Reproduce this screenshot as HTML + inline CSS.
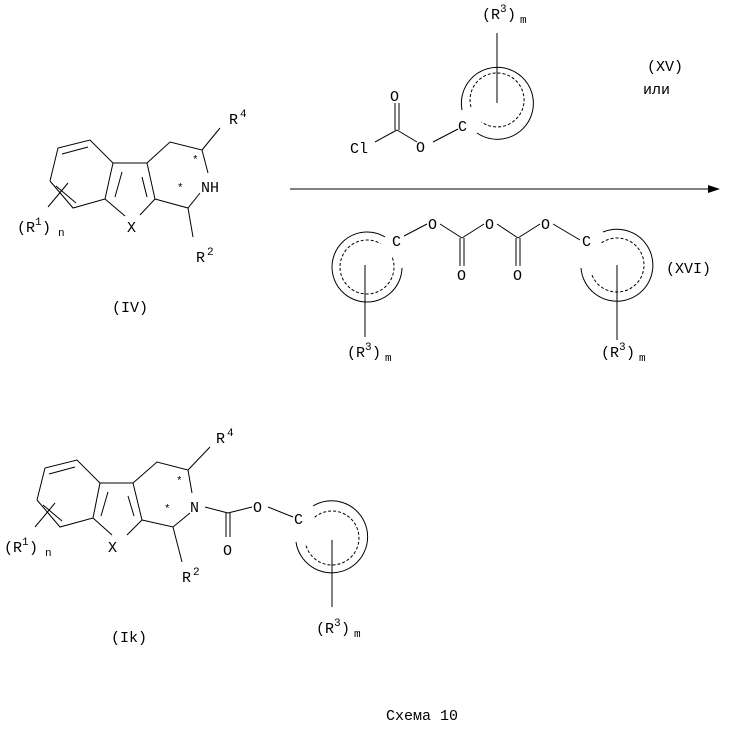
<!DOCTYPE html><html><head><style>body{margin:0;background:#fff}svg{display:block}text{font-family:"Liberation Mono","DejaVu Sans Mono",monospace;font-size:15px;fill:#000}.s{font-size:11px}</style></head><body>
<svg width="750" height="730" viewBox="0 0 750 730" xmlns="http://www.w3.org/2000/svg">
<g stroke="#000" stroke-width="1" fill="none">
<!-- IV -->
<polyline points="50,181 58,148 90,140 113,163 105,199 73,208 50,181"/>
<line x1="62" y1="154" x2="88" y2="147"/>
<line x1="56" y1="186" x2="76" y2="203"/>
<line x1="48" y1="207" x2="68" y2="183"/>
<line x1="113" y1="163" x2="147" y2="163"/>
<line x1="105" y1="199" x2="125" y2="216"/>
<line x1="140" y1="215" x2="155" y2="199"/>
<line x1="155" y1="199" x2="147" y2="163"/>
<line x1="122" y1="172" x2="115" y2="197"/>
<line x1="142" y1="177" x2="147" y2="197"/>
<polyline points="147,163 170,142 202,150 208,173"/>
<polyline points="200,193 188,208 155,199"/>
<line x1="188" y1="208" x2="193" y2="237"/>
<line x1="202" y1="150" x2="220" y2="128"/>
<!-- XV -->
<line x1="497" y1="33" x2="497" y2="103"/>
<path d="M 462 110 A 36 36 0 1 1 477 133"/>
<path d="M 471 107 A 27 27 0 1 1 481.5 122" stroke-dasharray="3,2"/>
<line x1="433" y1="142" x2="458" y2="129"/>
<line x1="417" y1="142" x2="397" y2="130"/>
<line x1="375" y1="142" x2="397" y2="130"/>
<line x1="395" y1="130" x2="395" y2="103"/>
<line x1="399" y1="130" x2="399" y2="103"/>
<!-- arrow -->
<line x1="290" y1="189" x2="712" y2="189"/>
<!-- XVI -->
<path d="M 402 268 A 35 35 0 1 1 385 237"/>
<path d="M 392.4 257.8 A 27 27 0 1 1 380.5 243.6" stroke-dasharray="3,2"/>
<line x1="365" y1="265" x2="365" y2="337"/>
<line x1="404" y1="236" x2="427" y2="224"/>
<line x1="440" y1="224" x2="462" y2="238"/>
<line x1="462" y1="238" x2="484" y2="224"/>
<line x1="460" y1="238" x2="460" y2="266"/>
<line x1="464" y1="238" x2="464" y2="266"/>
<line x1="497" y1="224" x2="518" y2="238"/>
<line x1="518" y1="238" x2="540" y2="224"/>
<line x1="516" y1="238" x2="516" y2="266"/>
<line x1="520" y1="238" x2="520" y2="266"/>
<line x1="553" y1="224" x2="580" y2="240"/>
<path d="M 603 232 A 36 36 0 1 1 581 268"/>
<path d="M 601.5 242.9 A 27 27 0 1 1 591.6 274.2" stroke-dasharray="3,2"/>
<line x1="617" y1="265" x2="617" y2="340"/>
<!-- Ik -->
<polyline points="37,500 45,468 77,460 100,483 93,518 60,527 37,500"/>
<line x1="49" y1="474" x2="75" y2="467"/>
<line x1="43" y1="505" x2="62" y2="521"/>
<line x1="35" y1="527" x2="55" y2="503"/>
<line x1="100" y1="483" x2="133" y2="483"/>
<line x1="93" y1="518" x2="112" y2="535"/>
<line x1="127" y1="535" x2="142" y2="520"/>
<line x1="142" y1="520" x2="133" y2="483"/>
<line x1="108" y1="492" x2="101" y2="516"/>
<line x1="128" y1="496" x2="134" y2="516"/>
<polyline points="133,483 157,462 188,470 192,493"/>
<polyline points="190,513 173,527 142,520"/>
<line x1="173" y1="527" x2="182" y2="562"/>
<line x1="188" y1="470" x2="210" y2="447"/>
<line x1="205" y1="507" x2="228" y2="513"/>
<line x1="226" y1="513" x2="226" y2="537"/>
<line x1="230" y1="513" x2="230" y2="537"/>
<line x1="228" y1="513" x2="252" y2="507"/>
<line x1="268" y1="507" x2="293" y2="517"/>
<path d="M 313 506 A 36 36 0 1 1 296 542"/>
<path d="M 314.6 517.3 A 27 27 0 1 1 305.9 545" stroke-dasharray="3,2"/>
<line x1="332" y1="540" x2="332" y2="607"/>
</g>
<polygon points="720,189 708,185 708,193" fill="#000"/>
<!-- IV text -->
<text x="192" y="163" class="s">*</text><text x="177" y="191" class="s">*</text>
<text x="201" y="192">NH</text>
<text x="229" y="124">R</text><text x="240" y="117" class="s">4</text>
<text x="196" y="262">R</text><text x="207" y="255" class="s">2</text>
<text x="127" y="232">X</text>
<text x="17" y="232">(R</text><text x="35" y="225" class="s">1</text><text x="42" y="232">)</text><text x="58" y="236" class="s">n</text>
<text x="112" y="312">(IV)</text>
<!-- XV text -->
<text x="482" y="19">(R</text><text x="500" y="12" class="s">3</text><text x="507" y="19">)</text><text x="520" y="23" class="s">m</text>
<text x="390" y="101">O</text>
<text x="350" y="153">Cl</text>
<text x="416" y="152">O</text>
<text x="458" y="131">C</text>
<text x="647" y="71">(XV)</text>
<text x="643" y="94">или</text>
<!-- XVI text -->
<text x="392" y="246">C</text>
<text x="428" y="229">O</text><text x="485" y="229">O</text><text x="541" y="229">O</text>
<text x="457" y="280">O</text><text x="513" y="280">O</text>
<text x="582" y="246">C</text>
<text x="666" y="273">(XVI)</text>
<text x="347" y="357">(R</text><text x="365" y="350" class="s">3</text><text x="372" y="357">)</text><text x="385" y="361" class="s">m</text>
<text x="601" y="357">(R</text><text x="619" y="350" class="s">3</text><text x="626" y="357">)</text><text x="639" y="361" class="s">m</text>
<!-- Ik text -->
<text x="176" y="484" class="s">*</text><text x="164" y="512" class="s">*</text>
<text x="190" y="512">N</text>
<text x="216" y="443">R</text><text x="227" y="436" class="s">4</text>
<text x="182" y="582">R</text><text x="193" y="575" class="s">2</text>
<text x="108" y="552">X</text>
<text x="4" y="552">(R</text><text x="22" y="545" class="s">1</text><text x="29" y="552">)</text><text x="45" y="556" class="s">n</text>
<text x="223" y="555">O</text>
<text x="253" y="512">O</text>
<text x="294" y="524">C</text>
<text x="316" y="633">(R</text><text x="334" y="626" class="s">3</text><text x="341" y="633">)</text><text x="354" y="637" class="s">m</text>
<text x="111" y="642">(Ik)</text>
<text x="386" y="720">Схема 10</text>
</svg></body></html>
